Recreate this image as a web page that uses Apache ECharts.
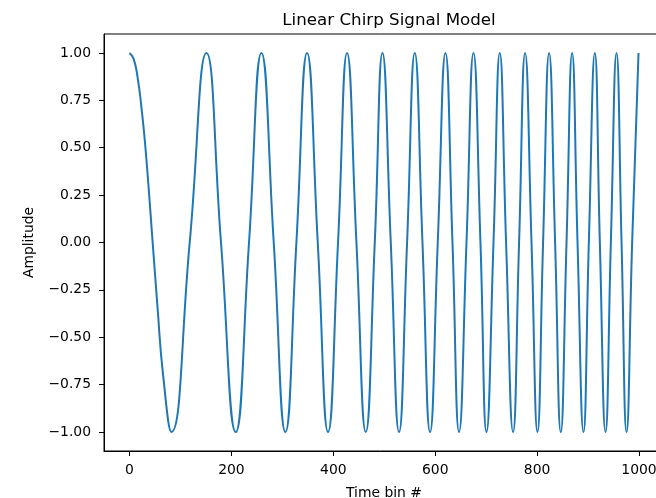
<!DOCTYPE html>
<html>
<head>
<meta charset="utf-8">
<script src="https://cdn.jsdelivr.net/npm/echarts@6/dist/echarts.min.js"></script>
<style>html,body{margin:0;padding:0;background:#fff}#chart{width:656px;height:498px}</style>
</head>
<body>
<div id="chart"></div>
<script>
// Values: start of the curve, then peaks (+1), zero crossings (0), troughs (-1)
var timeBins = [0, 8, 16, 24, 32, 45.5, 55, 66, 82.3, 118.2, 151.0, 179.6, 208.5, 234.6, 258.9, 283.1, 306.0, 327.6,
  348.5, 369.5, 389.7, 409.3, 427.0, 445.4, 463.7, 481.4, 496.5, 512.8, 529.0, 544.8,
  559.9, 575.0, 589.9, 605.0, 620.1, 633.9, 646.8, 661.4, 675.1, 688.8, 700.6, 714.4,
  726.7, 739.1, 752.8, 764.6, 776.4, 789.0, 800.7, 811.7, 823.5, 835.3, 846.4, 857.7,
  868.7, 879.3, 891.0, 901.5, 913.3, 923.1, 934.2, 944.7, 955.8, 965.7, 975.5, 986.5, 999];
var amplitude = [1, 0.97, 0.87, 0.70, 0.48, 0, -0.34, -0.70, -1, 0, 1, 0, -1, 0, 1, 0, -1, 0, 1, 0, -1, 0, 1, 0, -1, 0,
  1, 0, -1, 0, 1, 0, -1, 0, 1, 0, -1, 0, 1, 0, -1, 0,
  1, 0, -1, 0, 1, 0, -1, 0, 1, 0, -1, 0, 1, 0, -1, 0, 1, 0, -1, 0, 1, 0, -1, 0, 1];
var xTicks = [0, 200, 400, 600, 800, 1000];
var yTicks = [-1.0, -0.75, -0.5, -0.25, 0.0, 0.25, 0.5, 0.75, 1.0];
var titleText = 'Linear Chirp Signal Model';
var xLabel = 'Time bin #';
var yLabel = 'Amplitude';

var seriesData = timeBins.map(function (t, i) { return [t, amplitude[i]]; });
var font = 'DejaVu Sans';
var chart = echarts.init(document.getElementById('chart'), null, {renderer: 'canvas'});
chart.setOption({
  animation: false,
  backgroundColor: '#ffffff',
  title: {
    text: titleText, left: 384, top: 7, textAlign: 'center',
    textStyle: {fontFamily: font, fontSize: 16.7, fontWeight: 'normal', color: '#000'}
  },
  grid: {left: 104, top: 34, width: 560, height: 417, show: true, borderColor: '#000', borderWidth: 1,
    backgroundColor: 'transparent', containLabel: false, outerBoundsMode: 'none'},
  xAxis: {
    type: 'value', min: -50, max: 1049,
    name: xLabel, nameLocation: 'middle', nameGap: 35,
    nameTextStyle: {fontFamily: font, fontSize: 13.9, color: '#000'},
    splitLine: {show: false},
    axisLine: {show: true, onZero: false, lineStyle: {color: '#000', width: 1}},
    axisTick: {show: true, inside: false, length: 5, lineStyle: {color: '#000', width: 1}, customValues: xTicks},
    axisLabel: {fontFamily: font, fontSize: 13.9, color: '#000', margin: 12, customValues: xTicks,
      formatter: function (v) { return String(Math.round(v)); }}
  },
  yAxis: {
    type: 'value', min: -1.1, max: 1.1,
    name: yLabel, nameLocation: 'middle', nameGap: 68, nameRotate: 90,
    nameTextStyle: {fontFamily: font, fontSize: 13.9, color: '#000'},
    splitLine: {show: false},
    axisLine: {show: true, onZero: false, lineStyle: {color: '#000', width: 1}},
    axisTick: {show: true, inside: false, length: 5, lineStyle: {color: '#000', width: 1}, customValues: yTicks},
    axisLabel: {fontFamily: font, fontSize: 13.9, color: '#000', margin: 13, customValues: yTicks,
      formatter: function (v) { return v.toFixed(2).replace('-', '\u2212'); }}
  },
  series: [{
    type: 'line', data: seriesData, smooth: 0.5, showSymbol: false,
    lineStyle: {color: '#1f77b4', width: 2}, clip: true
  }]
});
</script>
</body>
</html>
